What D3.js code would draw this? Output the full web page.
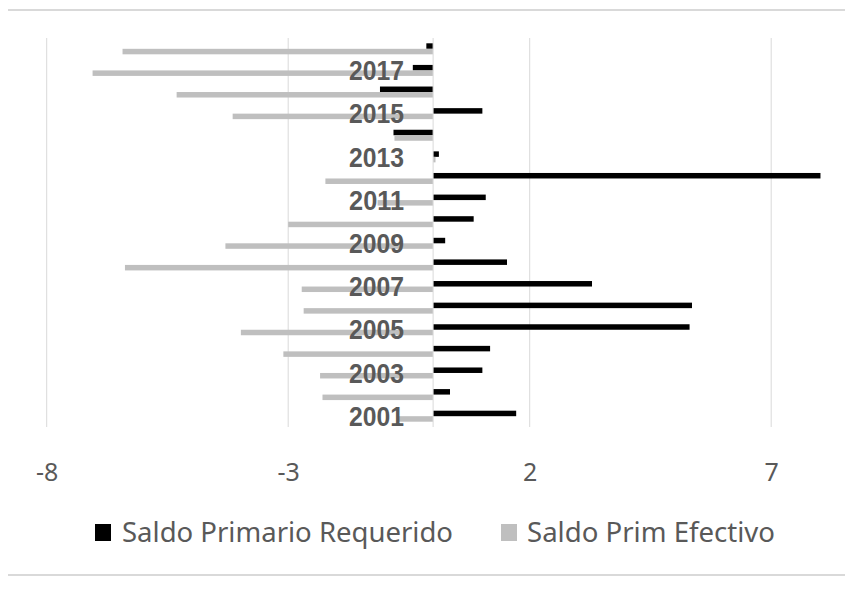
<!DOCTYPE html>
<html>
<head>
<meta charset="utf-8">
<script src="https://cdn.jsdelivr.net/npm/d3@7"></script>
<style>
  html, body { margin: 0; padding: 0; background: #fff; }
  svg { display: block; }
</style>
</head>
<body>
<svg id="chart" width="845" height="590"></svg>
<script>
// Years on the category axis (bottom to top)
const years = [2001, 2002, 2003, 2004, 2005, 2006, 2007, 2008, 2009,
               2010, 2011, 2012, 2013, 2014, 2015, 2016, 2017, 2018];
// Saldo Primario Requerido (% del PIB)
const requerido = [1.72, 0.35, 1.02, 1.18, 5.31, 5.36, 3.29, 1.53, 0.25,
                   0.84, 1.09, 8.02, 0.12, -0.82, 1.02, -1.10, -0.42, -0.14];
// Saldo Prim Efectivo (% del PIB)
const efectivo = [-0.72, -2.29, -2.34, -3.10, -3.98, -2.68, -2.72, -6.38, -4.30,
                  -3.00, -1.15, -2.23, 0.05, -0.80, -4.15, -5.31, -7.05, -6.43];
// Axis ticks and labelled years
const xTicks = [-8, -3, 2, 7];
const labelYears = [2001, 2003, 2005, 2007, 2009, 2011, 2013, 2015, 2017];
const seriesNames = ["Saldo Primario Requerido", "Saldo Prim Efectivo"];
const seriesColors = ["#000000", "#bfbfbf"];

const svg = d3.select("#chart");
const W = 845;
const textColor = "#595959";
const gridColor = "#d9d9d9";

const x = d3.scaleLinear().domain([-8, 8.5]).range([46.7, 46.7 + 16.5 * 48.3]);
const y = d3.scaleBand().domain(years).range([427, 38]).padding(0);
const inner = d3.scaleBand().domain(["req", "ef"]);

// Outer frame lines
svg.append("line").attr("x1", 8).attr("x2", W).attr("y1", 10).attr("y2", 10)
  .attr("stroke", gridColor).attr("stroke-width", 2);
svg.append("line").attr("x1", 8).attr("x2", W).attr("y1", 575).attr("y2", 575)
  .attr("stroke", gridColor).attr("stroke-width", 2);

// Vertical gridlines
svg.append("g").selectAll("line").data(xTicks).join("line")
  .attr("x1", d => x(d)).attr("x2", d => x(d))
  .attr("y1", 38).attr("y2", 427)
  .attr("stroke", gridColor).attr("stroke-width", 1);

// Tick labels (plain hyphen for negatives)
const xAxis = d3.axisBottom(x).tickValues(xTicks).tickSize(0).tickPadding(0)
  .tickFormat(d => String(d));
const gx = svg.append("g").attr("transform", "translate(0,481)").call(xAxis);
gx.select(".domain").remove();
gx.selectAll("text")
  .attr("y", 0).attr("dy", 0)
  .attr("fill", textColor)
  .style("font-family", "'Noto Sans', 'Open Sans', sans-serif")
  .style("font-size", "25px");

// Bars
const rows = years.map((yr, i) => ({ year: yr, req: requerido[i], ef: efectivo[i] }));
const bars = svg.append("g");
["req", "ef"].forEach((key, k) => {
  bars.selectAll("rect." + key).data(rows).join("rect")
    .attr("class", key)
    .attr("x", d => x(Math.min(0, d[key])))
    .attr("width", d => Math.abs(x(d[key]) - x(0)))
    .attr("y", d => {
      const c = y(d.year) + y.bandwidth() / 2;
      inner.range([c - 5.5, c + 5.5]);
      return inner(key);
    })
    .attr("height", 5.5)
    .attr("fill", seriesColors[k]);
});

// Category axis line at zero
svg.append("line").attr("x1", x(0)).attr("x2", x(0)).attr("y1", 38).attr("y2", 427)
  .attr("stroke", gridColor).attr("stroke-width", 1);

// Year labels next to the axis
const yAxis = d3.axisLeft(y).tickValues(labelYears).tickSize(0).tickPadding(0);
const gy = svg.append("g").attr("transform", `translate(${x(0) - 29},0)`).call(yAxis);
gy.select(".domain").remove();
gy.selectAll("text")
  .attr("x", 0).attr("dy", "0.36em")
  .attr("fill", textColor)
  .attr("textLength", 55).attr("lengthAdjust", "spacingAndGlyphs")
  .style("font-family", "'Liberation Sans Narrow', 'Liberation Sans', sans-serif")
  .style("font-weight", "bold")
  .style("font-size", "27px");

// Legend
const legend = [
  { name: seriesNames[0], color: seriesColors[0], sx: 95, tx: 122, len: 331 },
  { name: seriesNames[1], color: seriesColors[1], sx: 501, tx: 527, len: 248 }
];
const lg = svg.append("g");
legend.forEach(l => {
  lg.append("rect").attr("x", l.sx).attr("y", 524).attr("width", 16).attr("height", 17)
    .attr("fill", l.color);
  lg.append("text").attr("x", l.tx).attr("y", 542)
    .attr("fill", textColor)
    .attr("textLength", l.len).attr("lengthAdjust", "spacingAndGlyphs")
    .style("font-family", "'Noto Sans', 'Open Sans', sans-serif")
    .style("font-size", "27px")
    .text(l.name);
});
</script>
</body>
</html>
